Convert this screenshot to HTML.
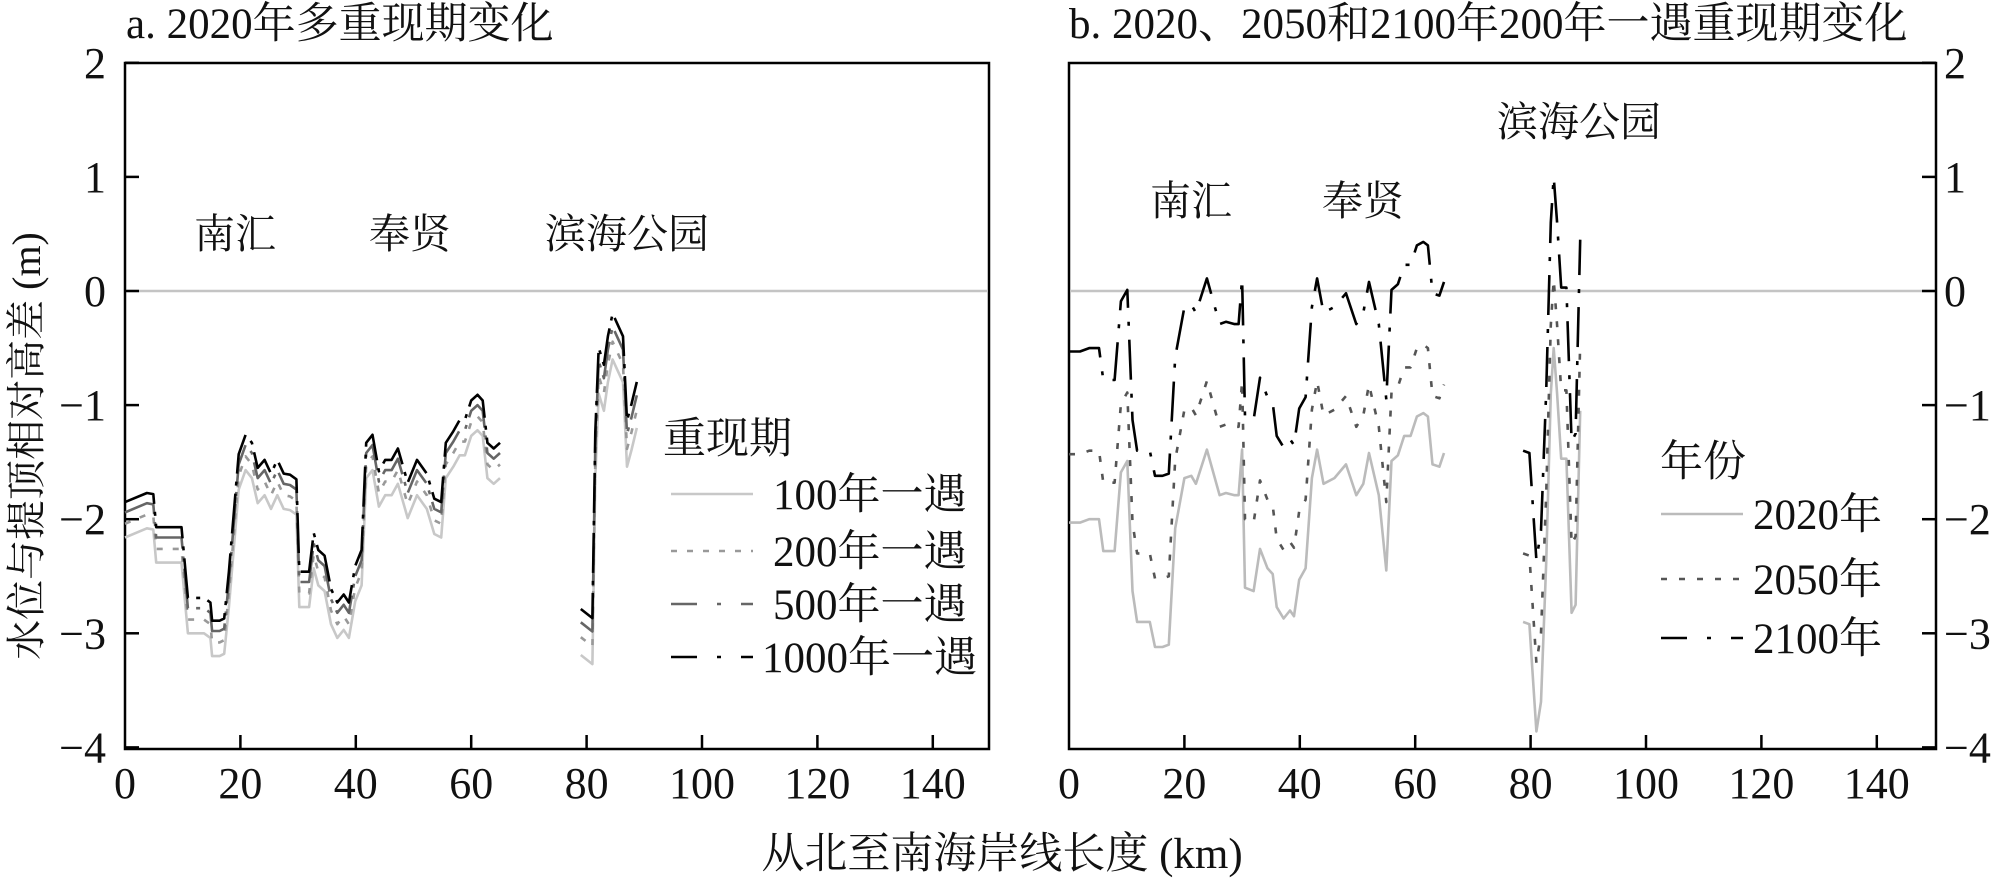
<!DOCTYPE html>
<html><head><meta charset="utf-8"><style>
html,body{margin:0;padding:0;background:#fff;}
svg{display:block;}
text{font-family:"Liberation Serif","Noto Serif CJK SC","Noto Sans CJK SC",serif;fill:#111;}
</style></head><body>
<svg id="s" width="2000" height="881" xmlns="http://www.w3.org/2000/svg">
<rect width="2000" height="881" fill="#fff"/>
<rect x="125" y="63" width="864" height="686" fill="none" stroke="#000" stroke-width="2.5"/>
<rect x="1069" y="63" width="867" height="686" fill="none" stroke="#000" stroke-width="2.5"/>
<line x1="126" y1="291" x2="988" y2="291" stroke="#c4c4c4" stroke-width="2.5"/>
<line x1="1070" y1="291" x2="1935" y2="291" stroke="#c4c4c4" stroke-width="2.5"/>
<g id="ticks"></g>
<g id="data"></g>
<text x="126" y="38" font-size="43">a. 2020年多重现期变化</text>
<text x="1069" y="38" font-size="43">b. 2020、2050和2100年200年一遇重现期变化</text>
<text x="194" y="248" font-size="41">南汇</text>
<text x="369" y="248" font-size="41">奉贤</text>
<text x="545" y="248" font-size="41">滨海公园</text>
<text x="1497" y="136" font-size="41">滨海公园</text>
<text x="1150" y="215" font-size="41">南汇</text>
<text x="1322" y="215" font-size="41">奉贤</text>
<text transform="translate(40,446) rotate(-90)" text-anchor="middle" font-size="40">水位与提顶相对高差 (m)</text>
<text x="1002" y="868" text-anchor="middle" font-size="43">从北至南海岸线长度 (km)</text>
<text x="663" y="453" font-size="43">重现期</text>
<line x1="671" y1="494" x2="753" y2="494" stroke="#c8c8c8" stroke-width="2.5"/>
<line x1="671" y1="551" x2="753" y2="551" stroke="#999" stroke-width="2.5" stroke-dasharray="6,10"/>
<line x1="671" y1="604" x2="753" y2="604" stroke="#666" stroke-width="2.5" stroke-dasharray="26,20,4,20"/>
<line x1="671" y1="657" x2="753" y2="657" stroke="#000" stroke-width="2.5" stroke-dasharray="26,20,4,20"/>
<text x="773" y="509" font-size="43">100年一遇</text>
<text x="773" y="566" font-size="43">200年一遇</text>
<text x="773" y="619" font-size="43">500年一遇</text>
<text x="762" y="672" font-size="43">1000年一遇</text>
<text x="1660" y="476" font-size="43">年份</text>
<line x1="1661" y1="514" x2="1743" y2="514" stroke="#bbb" stroke-width="2.5"/>
<line x1="1661" y1="579" x2="1743" y2="579" stroke="#555" stroke-width="2.5" stroke-dasharray="6,12"/>
<line x1="1661" y1="638" x2="1743" y2="638" stroke="#000" stroke-width="2.5" stroke-dasharray="26,20,4,20"/>
<text x="1753" y="529" font-size="43">2020年</text>
<text x="1753" y="594" font-size="43">2050年</text>
<text x="1753" y="653" font-size="43">2100年</text>
</svg>
<script>
var NS="http://www.w3.org/2000/svg";
function el(p,tag,a,txt){var e=document.createElementNS(NS,tag);for(var k in a)e.setAttribute(k,a[k]);if(txt!==undefined)e.textContent=txt;p.appendChild(e);return e;}
var T=document.getElementById('ticks'),D=document.getElementById('data');
function Y(v){return 291-v*114.1;}
var L0=125,R0=1069,K=5.77;
for(var v=-4;v<=2;v++){
 var y=Y(v);
 el(T,'line',{x1:125,y1:y,x2:139,y2:y,stroke:'#000','stroke-width':2.5});
 el(T,'line',{x1:1936,y1:y,x2:1922,y2:y,stroke:'#000','stroke-width':2.5});
 var lab=(v<0?'\u2212'+(-v):''+v);
 el(T,'text',{x:106,y:y+15,'text-anchor':'end','font-size':44},lab);
 el(T,'text',{x:1944,y:y+15,'font-size':44},lab);
}
for(var k=0;k<=140;k+=20){
 [L0,R0].forEach(function(o){var x=o+k*K;
  if(k>0)el(T,'line',{x1:x,y1:749,x2:x,y2:735,stroke:'#000','stroke-width':2.5});
  el(T,'text',{x:x,y:798,'text-anchor':'middle','font-size':44},''+k);});
}
var A1=[[0,-2.16],[3.8,-2.08],[4.9,-2.09],[5.4,-2.38],[8.7,-2.38],[9.8,-2.38],[10.9,-3.0],[13.7,-3.0],[14.8,-3.04],[15.1,-3.2],[16.4,-3.2],[17.2,-3.18],[18,-2.77],[19.7,-1.74],[20.9,-1.57],[22,-1.64],[23,-1.86],[24.2,-1.79],[25.3,-1.91],[26.4,-1.79],[27.5,-1.91],[28.6,-1.92],[29.7,-1.96],[30.2,-2.77],[31.9,-2.77],[32.7,-2.43],[33.5,-2.58],[34.6,-2.63],[35.7,-2.92],[36.8,-3.04],[37.9,-2.97],[38.8,-3.04],[39.9,-2.72],[41,-2.58],[41.8,-1.64],[42.9,-1.57],[44,-1.89],[45.1,-1.79],[46.2,-1.79],[47.3,-1.69],[49,-1.99],[50.6,-1.79],[52.3,-1.91],[53.6,-2.13],[54.8,-2.16],[55.6,-1.64],[56.9,-1.54],[58,-1.44],[58.9,-1.44],[60,-1.27],[61.1,-1.22],[62,-1.27],[62.8,-1.64],[63.9,-1.69],[65,-1.64]];
var A2=[[79,-3.19],[81,-3.27],[81.5,-1.64],[82.1,-0.9],[83,-1.05],[83.7,-0.8],[84.5,-0.6],[85.4,-0.7],[86.3,-0.8],[87,-1.54],[87.8,-1.39],[88.7,-1.2]];
var B1=[[0,-2.03],[1.9,-2.03],[3.5,-2.0],[5.2,-2.0],[5.95,-2.28],[7.9,-2.28],[9,-1.59],[10.1,-1.49],[11,-2.63],[11.8,-2.9],[14,-2.9],[14.9,-3.12],[16.2,-3.12],[17.3,-3.1],[18.4,-2.08],[20,-1.64],[21.2,-1.62],[22,-1.69],[23.9,-1.39],[26.1,-1.79],[27.2,-1.77],[28.7,-1.79],[29.4,-1.79],[30,-1.39],[30.5,-2.6],[32,-2.63],[33.1,-2.26],[34.4,-2.43],[35.3,-2.48],[36,-2.77],[37.2,-2.87],[38.3,-2.8],[39,-2.85],[39.9,-2.53],[41,-2.43],[42.1,-1.64],[43,-1.39],[44.1,-1.69],[46,-1.64],[48,-1.52],[49.8,-1.79],[51,-1.69],[52,-1.42],[53.7,-1.79],[55,-2.45],[55.9,-1.49],[57,-1.44],[58.1,-1.27],[59.2,-1.27],[60.3,-1.1],[61.4,-1.07],[62.2,-1.1],[63,-1.52],[64.2,-1.54],[65,-1.42]];
var B2=[[78.7,-2.9],[79.8,-2.92],[81,-3.86],[81.8,-3.6],[82.7,-2.38],[83.5,-0.9],[84,-0.5],[84.6,-0.9],[85.3,-1.47],[86.2,-1.47],[87.1,-2.82],[87.8,-2.75],[88.6,-1.05]];
function path(pts,o,off,st){
 var d='';pts.forEach(function(p,i){d+=(i?'L':'M')+(o+p[0]*K).toFixed(1)+','+Y(p[1]+off).toFixed(1);});
 var a={d:d,fill:'none','stroke-width':2.6,'stroke-linejoin':'round'};for(var k in st)a[k]=st[k];el(D,'path',a);
}
var sL=[[0,{stroke:'#c8c8c8'}],[0.12,{stroke:'#999','stroke-dasharray':'6,10'}],[0.22,{stroke:'#666','stroke-dasharray':'40,8,4,8'}],[0.31,{stroke:'#000','stroke-dasharray':'40,8,4,8'}]];
sL.forEach(function(s){path(A1,L0,s[0],s[1]);path(A2,L0,s[0]*1.3,s[1]);});
var sR=[[0,{stroke:'#bbb'}],[0.6,{stroke:'#555','stroke-dasharray':'6,12'}],[1.5,{stroke:'#000','stroke-dasharray':'40,14,4,14'}]];
sR.forEach(function(s){path(B1,R0,s[0],s[1]);path(B2,R0,s[0],s[1]);});
</script>
</body></html>
